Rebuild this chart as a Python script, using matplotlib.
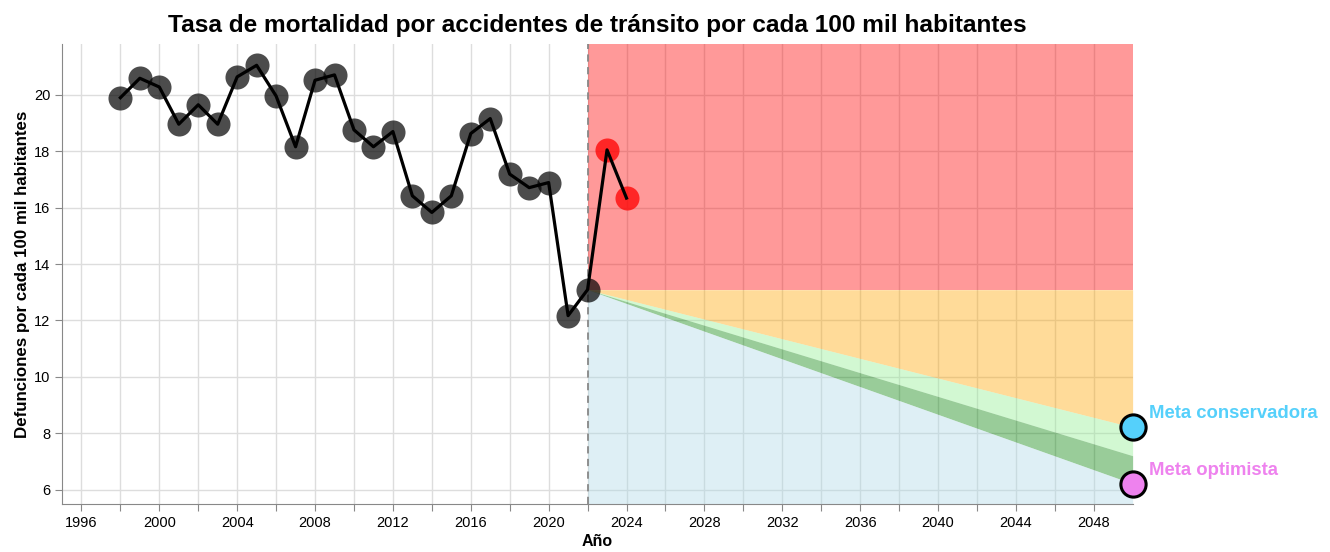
import matplotlib
matplotlib.use("Agg")
import matplotlib.pyplot as plt
import numpy as np

plt.rcParams['font.family'] = ['Liberation Sans', 'DejaVu Sans']

# observed series
years = list(range(1998, 2023))
rates = [19.9, 20.59, 20.28, 18.96, 19.65, 18.96, 20.64, 21.05, 19.96, 18.16,
         20.52, 20.71, 18.76, 18.16, 18.7, 16.42, 15.83, 16.42, 18.63, 19.16,
         17.19, 16.71, 16.89, 12.17, 13.09]

# recent values above the base
recent_years = [2023, 2024]
recent_rates = [18.05, 16.34]

# goal scenarios
base_year = 2022
goal_year = 2050
meta_conservadora = 8.21
meta_intermedia = 7.2
meta_optimista = 6.21

y_min, y_max = 5.48, 21.8

fig = plt.figure(figsize=(13.3, 5.52), dpi=100)
ax = fig.add_axes([0.0466, 0.0866, 0.805, 0.8334])

base = rates[-1]
xs = [base_year, goal_year]
cons = [base, meta_conservadora]
mid = [base, meta_intermedia]
opt = [base, meta_optimista]

ax.fill_between(xs, [base, base], [y_max, y_max], color='red', alpha=0.4, lw=0, zorder=2)
ax.fill_between(xs, cons, [base, base], color='orange', alpha=0.4, lw=0, zorder=2)
ax.fill_between(xs, mid, cons, color='lightgreen', alpha=0.4, lw=0, zorder=2)
ax.fill_between(xs, opt, mid, color='green', alpha=0.4, lw=0, zorder=2)
ax.fill_between(xs, [y_min, y_min], opt, color='lightblue', alpha=0.4, lw=0, zorder=2)

ax.axvline(base_year, color='#888888', ls=(0, (4, 3)), lw=1.3, zorder=3)

ax.scatter(years, rates, s=300, color='black', alpha=0.7, lw=0, zorder=4)
ax.scatter(recent_years, recent_rates, s=300, color='red', alpha=0.75, lw=0, zorder=4)
ax.plot(years + recent_years, rates + recent_rates, color='black', lw=2.3, zorder=5)

ax.scatter([goal_year], [meta_conservadora], s=330, color='#55d0fb', edgecolor='black',
           lw=2.2, zorder=6, clip_on=False)
ax.scatter([goal_year], [meta_optimista], s=330, color='#ee82ee', edgecolor='black',
           lw=2.2, zorder=6, clip_on=False)
ax.annotate('Meta conservadora', (goal_year, meta_conservadora), xytext=(11.5, 6.3),
            textcoords='offset points', color='#55d0fb', fontsize=13.3,
            fontweight='bold', ha='left', va='baseline', annotation_clip=False)
ax.annotate('Meta optimista', (goal_year, meta_optimista), xytext=(11.5, 6.3),
            textcoords='offset points', color='#ee82ee', fontsize=13.3,
            fontweight='bold', ha='left', va='baseline', annotation_clip=False)

ax.set_xlim(1995, 2050)
ax.set_ylim(y_min, y_max)
ax.set_xticks(np.arange(1996, 2050, 2))
ax.set_xticklabels([str(y) if y % 4 == 0 else '' for y in range(1996, 2050, 2)])
ax.set_yticks(np.arange(6, 21, 2))
ax.grid(True, color='#dddddd', lw=1)
ax.set_axisbelow(True)
for s in ['top', 'right']:
    ax.spines[s].set_visible(False)
for s in ['left', 'bottom']:
    ax.spines[s].set_color('#888888')
ax.tick_params(colors='#888888', labelcolor='black', labelsize=10.5, length=5)

ax.set_xlabel('Año', fontsize=11.5, fontweight='bold', labelpad=3)
ax.set_ylabel('Defunciones por cada 100 mil habitantes', fontsize=12.2, fontweight='bold',
              labelpad=3)
ax.set_title('Tasa de mortalidad por accidentes de tránsito por cada 100 mil habitantes',
             fontsize=17.6, fontweight='bold', pad=9)

fig.savefig('out.png', dpi=100)
